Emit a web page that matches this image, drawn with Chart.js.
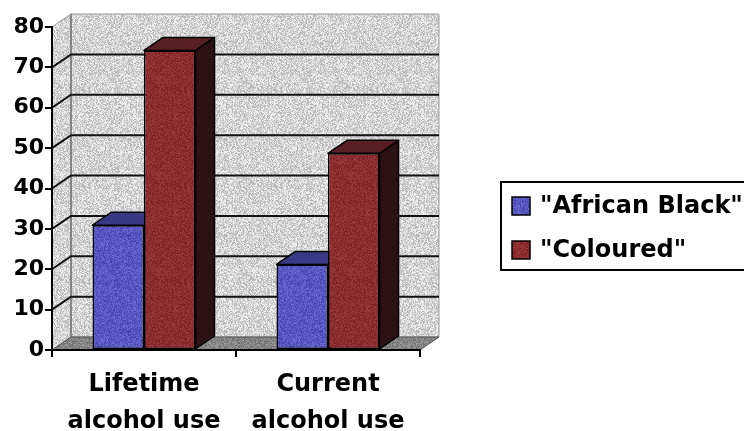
<!DOCTYPE html>
<html>
<head>
<meta charset="utf-8">
<script src="https://cdn.jsdelivr.net/npm/chart.js@4/dist/chart.umd.min.js"></script>
<style>
  html, body { margin: 0; padding: 0; background: #ffffff; }
  #c { display: block; }
</style>
</head>
<body>
<canvas id="c" width="744" height="431"></canvas>
<script>
// Alcohol use by population group (percent)
const categories = [['Lifetime', 'alcohol use'], ['Current', 'alcohol use']];
const seriesNames = ['"African Black"', '"Coloured"'];
const africanBlack = [30.9, 21.2];
const coloured = [74.2, 48.7];
const yTicks = [0, 10, 20, 30, 40, 50, 60, 70, 80];

// Depth offset of the 3D box (right, up)
const DX = 19, DY = -13;

// Deterministic grain for the textured fills
function grain(i) {
  const s = Math.sin(i * 12.9898 + 78.233) * 43758.5453;
  return s - Math.floor(s);
}
function texture(r, g, b, amp) {
  const size = 96;
  const cv = document.createElement('canvas');
  cv.width = size; cv.height = size;
  const cx = cv.getContext('2d');
  const img = cx.createImageData(size, size);
  for (let i = 0; i < size * size; i++) {
    const n = (grain(i) - 0.5) * 2 * amp;
    img.data[i * 4] = Math.max(0, Math.min(255, r + n));
    img.data[i * 4 + 1] = Math.max(0, Math.min(255, g + n));
    img.data[i * 4 + 2] = Math.max(0, Math.min(255, b + n));
    img.data[i * 4 + 3] = 255;
  }
  cx.putImageData(img, 0, 0);
  return cx.createPattern(cv, 'repeat');
}

const ctx0 = document.getElementById('c').getContext('2d');
const wallFill = texture(212, 212, 212, 36);
const floorFill = texture(132, 132, 132, 26);
const blueFront = texture(88, 86, 192, 22);
const redFront = texture(140, 46, 48, 16);
const faces = [
  { top: '#393884', side: '#2a2866' },
  { top: '#581f24', side: '#2c1115' }
];

function poly(ctx, pts, fill, stroke, lw) {
  ctx.beginPath();
  ctx.moveTo(pts[0][0], pts[0][1]);
  for (let i = 1; i < pts.length; i++) ctx.lineTo(pts[i][0], pts[i][1]);
  ctx.closePath();
  if (fill) { ctx.fillStyle = fill; ctx.fill(); }
  if (stroke) { ctx.strokeStyle = stroke; ctx.lineWidth = lw || 1; ctx.stroke(); }
}

const box3d = {
  id: 'box3d',
  beforeDraw(chart) {
    const { ctx, chartArea: a } = chart;
    const y = chart.scales.y;
    ctx.save();
    ctx.fillStyle = '#ffffff';
    ctx.fillRect(0, 0, chart.width, chart.height);
    const L = a.left, R = a.right;
    const T = y.getPixelForValue(yTicks[yTicks.length - 1]);
    const B = y.getPixelForValue(0);
    // back wall
    poly(ctx, [[L + DX, T + DY], [R + DX, T + DY], [R + DX, B + DY], [L + DX, B + DY]], wallFill, '#9a9a9a', 1);
    // side wall
    poly(ctx, [[L, T], [L + DX, T + DY], [L + DX, B + DY], [L, B]], wallFill, '#9a9a9a', 1);
    // floor
    poly(ctx, [[L, B], [R, B], [R + DX, B + DY], [L + DX, B + DY]], floorFill, '#555555', 1);
    // wall corner edge
    ctx.strokeStyle = '#6a6a6a';
    ctx.lineWidth = 1.2;
    ctx.beginPath();
    ctx.moveTo(L + DX, T + DY); ctx.lineTo(L + DX, B + DY);
    ctx.stroke();
    // grid lines across the side wall and back wall
    ctx.strokeStyle = '#111111';
    ctx.lineWidth = 2;
    yTicks.forEach(v => {
      if (v === 0 || v === yTicks[yTicks.length - 1]) return;
      const py = y.getPixelForValue(v);
      ctx.beginPath();
      ctx.moveTo(L, py);
      ctx.lineTo(L + DX, py + DY);
      ctx.lineTo(R + DX, py + DY);
      ctx.stroke();
    });
    ctx.restore();
  },
  beforeDatasetsDraw(chart) {
    const { ctx } = chart;
    const bars = [];
    chart.data.datasets.forEach((ds, di) => {
      chart.getDatasetMeta(di).data.forEach(el => bars.push({ el, di }));
    });
    bars.sort((p, q) => p.el.x - q.el.x);
    ctx.save();
    ctx.lineJoin = 'round';
    bars.forEach(({ el, di }) => {
      const l = el.x - el.width / 2, r = el.x + el.width / 2;
      const t = el.y, b = el.base;
      poly(ctx, [[r, t], [r + DX, t + DY], [r + DX, b + DY], [r, b]], faces[di].side, '#000000', 1.5);
      poly(ctx, [[l, t], [r, t], [r + DX, t + DY], [l + DX, t + DY]], faces[di].top, '#000000', 1.5);
    });
    ctx.restore();
  },
  afterDraw(chart) {
    const { ctx } = chart;
    ctx.save();
    // legend frame (runs past the right edge)
    ctx.strokeStyle = '#000000';
    ctx.lineWidth = 2;
    ctx.strokeRect(501, 182, 270, 88);
    ctx.font = 'bold 24px "DejaVu Sans"';
    ctx.textBaseline = 'middle';
    ctx.textAlign = 'left';
    const rows = [206, 250];
    chart.data.datasets.forEach((ds, i) => {
      const cy = rows[i];
      ctx.fillStyle = ds.backgroundColor;
      ctx.fillRect(512, cy - 9, 18, 18);
      ctx.lineWidth = 1.5;
      ctx.strokeRect(512, cy - 9, 18, 18);
      ctx.fillStyle = '#000000';
      ctx.fillText(ds.label, 540, cy + 1);
    });
    ctx.restore();
  }
};

new Chart(ctx0, {
  type: 'bar',
  data: {
    labels: categories,
    datasets: [
      { label: seriesNames[0], data: africanBlack, backgroundColor: blueFront, borderColor: '#000000', borderWidth: 1.5, borderSkipped: false },
      { label: seriesNames[1], data: coloured, backgroundColor: redFront, borderColor: '#000000', borderWidth: 1.5, borderSkipped: false }
    ]
  },
  options: {
    responsive: false,
    devicePixelRatio: 1,
    animation: false,
    events: [],
    layout: { padding: { top: 27, right: 324, left: 0, bottom: 0 } },
    datasets: { bar: { categoryPercentage: 0.56, barPercentage: 1.0 } },
    plugins: { legend: { display: false }, tooltip: { enabled: false } },
    scales: {
      x: {
        afterFit(s) { s.height = 81; },
        grid: { offset: true, drawOnChartArea: false, drawTicks: true, tickLength: 7, color: '#000000', lineWidth: 2 },
        border: { display: true, color: '#000000', width: 2 },
        ticks: { color: '#000000', font: { family: 'DejaVu Sans', size: 24, weight: 'bold', lineHeight: 1.54 }, padding: 9, maxRotation: 0, autoSkip: false }
      },
      y: {
        min: 0, max: 80,
        afterFit(s) { s.width = 52; },
        afterBuildTicks(s) { s.ticks = yTicks.map(v => ({ value: v })); },
        grid: { drawOnChartArea: false, drawTicks: true, tickLength: 7, color: '#000000', lineWidth: 2 },
        border: { display: true, color: '#000000', width: 2 },
        ticks: { color: '#000000', font: { family: 'DejaVu Sans', size: 22, weight: 'bold' }, padding: 1 }
      }
    }
  },
  plugins: [box3d]
});
</script>
</body>
</html>
